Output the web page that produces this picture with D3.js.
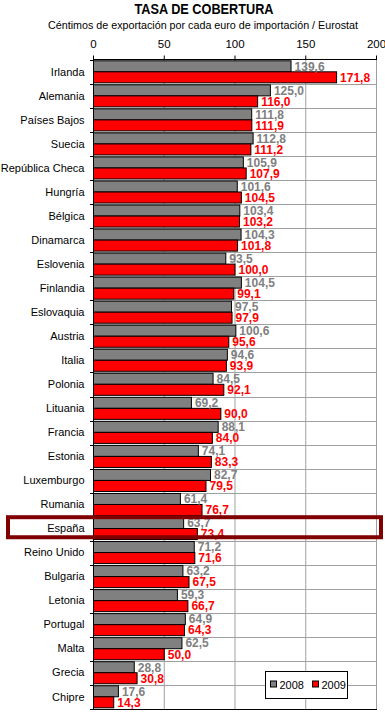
<!DOCTYPE html>
<html>
<head>
<meta charset="utf-8">
<script src="https://cdn.jsdelivr.net/npm/d3@7"></script>
<style>
  body { margin: 0; background: #fff; }
  svg, svg text { font-family: 'Liberation Sans', Arial, sans-serif; }
</style>
</head>
<body>
<div id="chart"></div>
<script>
var countries = ['Irlanda', 'Alemania', 'Países Bajos', 'Suecia', 'República Checa', 'Hungría',
    'Bélgica', 'Dinamarca', 'Eslovenia', 'Finlandia', 'Eslovaquia', 'Austria', 'Italia',
    'Polonia', 'Lituania', 'Francia', 'Estonia', 'Luxemburgo', 'Rumania', 'España',
    'Reino Unido', 'Bulgaria', 'Letonia', 'Portugal', 'Malta', 'Grecia', 'Chipre'];
var values2008 = [139.6, 125.0, 111.8, 112.8, 105.9, 101.6, 103.4, 104.3, 93.5, 104.5, 97.5,
    100.6, 94.6, 84.5, 69.2, 88.1, 74.1, 82.7, 61.4, 63.7, 71.2, 63.2, 59.3, 64.9, 62.5, 28.8, 17.6];
var values2009 = [171.8, 116.0, 111.9, 111.2, 107.9, 104.5, 103.2, 101.8, 100.0, 99.1, 97.9,
    95.6, 93.9, 92.1, 90.0, 84.0, 83.3, 79.5, 76.7, 73.4, 71.6, 67.5, 66.7, 64.3, 50.0, 30.8, 14.3];
var seriesNames = ['2008', '2009'];
var xTicks = [0, 50, 100, 150, 200];
var highlight = 'España';

(function() {
'use strict';

var W = 385, H = 712;
var left = 93, right = 376, top = 60, bottom = 709;
var font = "'Liberation Sans', Arial, sans-serif";
var colors = { '2008': '#808080', '2009': '#ff0000' };
var fmt = function (v) { return d3.format('.1f')(v).replace('.', ','); };

var svg = d3.select('#chart').append('svg')
    .attr('width', W).attr('height', H)
    .attr('font-family', font);

var x = d3.scaleLinear().domain([0, 200]).range([left, right]);
var y = d3.scaleBand().domain(countries).range([top, bottom]).padding(0);
var bw = y.bandwidth();
var ys = d3.scaleBand().domain(seriesNames).range([0.3, bw - 1.7]).padding(0);

// titles
svg.append('text').attr('x', 204).attr('y', 14)
    .attr('text-anchor', 'middle').attr('font-size', 14).attr('font-weight', 'bold')
    .attr('textLength', 139).attr('lengthAdjust', 'spacingAndGlyphs')
    .text('TASA DE COBERTURA');
svg.append('text').attr('x', 203).attr('y', 29)
    .attr('text-anchor', 'middle').attr('font-size', 11)
    .attr('textLength', 310).attr('lengthAdjust', 'spacingAndGlyphs')
    .text('Céntimos de exportación por cada euro de importación / Eurostat');

// grid
var grid = svg.append('g');
grid.selectAll('line.v').data(xTicks.slice(1)).enter().append('line')
    .attr('x1', function (d) { return x(d) + 0.5; }).attr('x2', function (d) { return x(d) + 0.5; })
    .attr('y1', top).attr('y2', bottom)
    .attr('stroke', '#a0a0a0');
grid.selectAll('line.h').data(countries.slice(1)).enter().append('line')
    .attr('x1', left).attr('x2', right + 0.5)
    .attr('y1', function (d) { return Math.round(y(d)) + 0.5; })
    .attr('y2', function (d) { return Math.round(y(d)) + 0.5; })
    .attr('stroke', '#a0a0a0');

// bars
var rows = countries.map(function (c, i) {
    return { country: c, vals: [
        { key: '2008', value: values2008[i] },
        { key: '2009', value: values2009[i] }
    ] };
});

var row = svg.append('g').selectAll('g').data(rows).enter().append('g')
    .attr('transform', function (d) { return 'translate(0,' + y(d.country) + ')'; });

row.selectAll('rect').data(function (d) { return d.vals; }).enter().append('rect')
    .attr('x', x(0) + 0.5)
    .attr('y', function (d) { return ys(d.key) + 0.5; })
    .attr('width', function (d) { return x(d.value) - x(0); })
    .attr('height', ys.bandwidth())
    .attr('fill', function (d) { return colors[d.key]; })
    .attr('stroke', '#000').attr('stroke-width', 1);

row.selectAll('text').data(function (d) { return d.vals; }).enter().append('text')
    .attr('x', function (d) { return x(d.value) + 4; })
    .attr('y', function (d) { return ys(d.key) + ys.bandwidth() / 2 + 4.8; })
    .attr('font-size', 12).attr('font-weight', 'bold')
    .attr('fill', function (d) { return colors[d.key]; })
    .text(function (d) { return fmt(d.value); });

// axes
var xAxis = d3.axisTop(x).tickValues(xTicks).tickSize(4).tickPadding(8);
var gx = svg.append('g').attr('transform', 'translate(0,' + (top - 0.5) + ')').call(xAxis)
    .attr('font-family', font);
gx.select('.domain').attr('stroke', '#000').attr('d', 'M' + left + ',0H' + (right + 1));
gx.selectAll('.tick line').attr('stroke', '#000');
gx.selectAll('.tick text').attr('font-size', 11.5).attr('fill', '#000');

var yAxis = d3.axisLeft(y).tickSize(0).tickPadding(9);
var gy = svg.append('g').attr('transform', 'translate(' + (left + 0.5) + ',0)').call(yAxis)
    .attr('font-family', font);
gy.select('.domain').attr('stroke', '#000').attr('d', 'M0,' + top + 'V' + bottom);
gy.selectAll('.tick text').attr('font-size', 11).attr('fill', '#000');

// small ticks between categories
svg.append('g').selectAll('line').data(countries.concat(['_end'])).enter().append('line')
    .attr('x1', left - 3).attr('x2', left + 0.5)
    .attr('y1', function (d, i) { return Math.round(top + i * bw) + 0.5; })
    .attr('y2', function (d, i) { return Math.round(top + i * bw) + 0.5; })
    .attr('stroke', '#000');

svg.append('line')
    .attr('x1', left - 3).attr('x2', right + 1)
    .attr('y1', bottom + 0.5).attr('y2', bottom + 0.5)
    .attr('stroke', '#000');

// highlight box
svg.append('rect')
    .attr('x', 8).attr('y', y(highlight) + 0.5)
    .attr('width', 373).attr('height', bw - 4)
    .attr('fill', 'none').attr('stroke', '#800000').attr('stroke-width', 4);

// legend
var lg = svg.append('g').attr('transform', 'translate(265.5,671.5)');
lg.append('rect').attr('width', 82).attr('height', 27)
    .attr('fill', '#fff').attr('stroke', '#000');
var item = lg.selectAll('g').data(seriesNames).enter().append('g')
    .attr('transform', function (d, i) { return 'translate(' + (5 + i * 42) + ',0)'; });
item.append('rect').attr('y', 9.5).attr('width', 6).attr('height', 6)
    .attr('fill', function (d) { return colors[d]; }).attr('stroke', '#000');
item.append('text').attr('x', 9).attr('y', 17.5)
    .attr('font-size', 11).text(function (d) { return d; });

})();
</script>
</body>
</html>
